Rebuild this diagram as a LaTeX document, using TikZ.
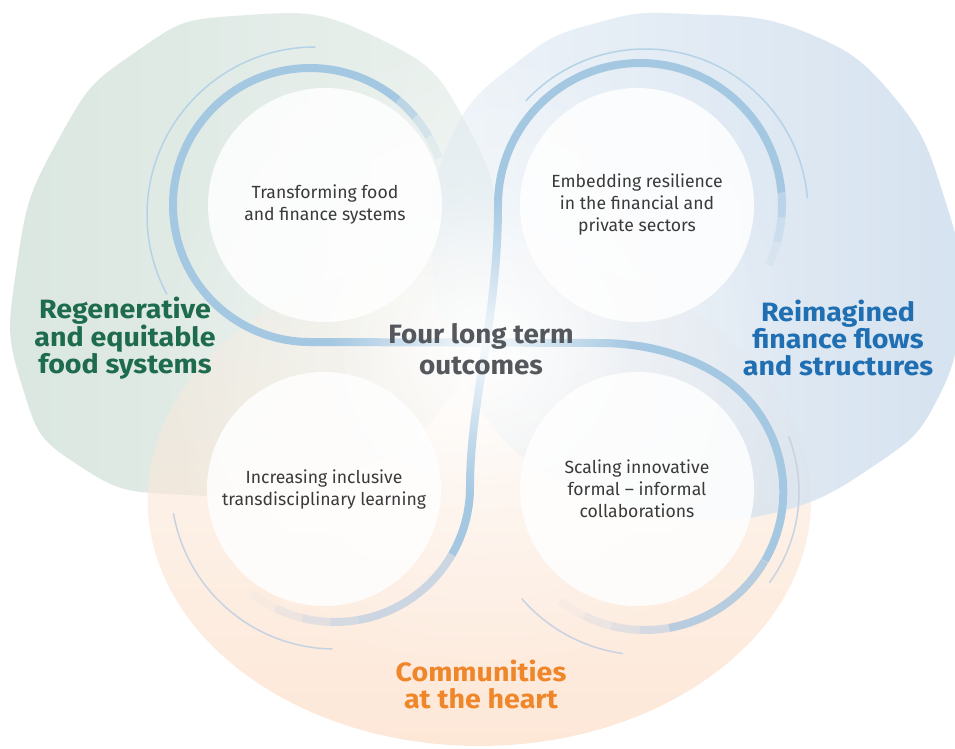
\documentclass[tikz,border=0pt]{standalone}
\usepackage{fontspec}
\setmainfont{Fira Sans}
\newfontfamily\labfont[FakeStretch=1.08]{Fira Sans}
\newfontfamily\cenfont[FakeStretch=1.05]{Fira Sans}
\usetikzlibrary{fadings}
\tikzfading[name=glowfade, inner color=transparent!0, outer color=transparent!100]
\tikzfading[name=fadegreen, left color=transparent!0, right color=transparent!45]
\tikzfading[name=fadeblue, left color=transparent!60, right color=transparent!0]
\tikzfading[name=fadeorange, top color=transparent!80, bottom color=transparent!0]
\definecolor{greenfill}{HTML}{DBE7E1}
\definecolor{bluefill}{HTML}{D6E3F0}
\definecolor{orangefill}{HTML}{FDE8D8}
\definecolor{swirl}{HTML}{A5C8E2}
\definecolor{swirlmid}{HTML}{B8CCE0}
\definecolor{swirlgrey}{HTML}{CCD6E3}
\definecolor{thinblue}{HTML}{B5D3E6}
\definecolor{thingrey}{HTML}{C8D3E2}
\definecolor{greentext}{HTML}{1E6B4E}
\definecolor{bluetext}{HTML}{1F6FB2}
\definecolor{orangetext}{HTML}{F0862A}
\definecolor{centertext}{HTML}{54575C}
\definecolor{circtext}{HTML}{3A3A3A}
\tikzset{
  swirlline/.style={line width=8, line cap=butt},
  thinline/.style={line width=1.5, line cap=round},
  outcome/.style={circle, minimum size=234, inner sep=0pt, fill=white, fill opacity=0.85, text opacity=1, align=center, text=circtext, font=\fontsize{17.6}{22}\selectfont},
  lab/.style={align=center, font=\labfont\fontsize{26.5}{27}\selectfont\bfseries},
  ctext/.style={align=center, text=centertext, font=\cenfont\fontsize{26.5}{31}\selectfont\bfseries}
}
\begin{document}
\begin{tikzpicture}[x=1pt,y=-1pt]
\useasboundingbox (0,0) rectangle (955,748);
\fill[white] (0,0) rectangle (955,748);
% blobs
\fill[greenfill, path fading=fadegreen] plot[smooth cycle, tension=0.9] coordinates {(240,15) (375,36) (468,126) (494,260) (450,398) (330,480) (190,495) (80,466) (22,385) (17,265) (58,140) (135,52)};
\fill[orangefill, path fading=fadeorange] (480,500) ellipse[x radius=332, y radius=246];
\fill[bluefill, path fading=fadeblue] plot[smooth cycle, tension=0.8] coordinates {(688,14) (805,32) (895,98) (945,200) (960,300) (938,398) (875,465) (765,515) (650,512) (540,470) (465,380) (432,260) (450,140) (520,60) (600,22)};
% broad soft glow over the overlaps
\fill[white, path fading=glowfade, opacity=0.6] (481,360) circle[radius=330];
% thin lines
\draw[thinline, thinblue] (315,215) ++(-90:168) arc[start angle=-90, end angle=-208, radius=168];
\draw[thinline, thinblue] (645,212) ++(-137:163) arc[start angle=-137, end angle=-5, radius=163];
\draw[thinline, thingrey] (335,485) ++(170:164) arc[start angle=170, end angle=91, radius=164];
\draw[thinline, thingrey] (645,492) ++(-21:154) arc[start angle=-21, end angle=36, radius=154];
\draw[thinline, thingrey] (645,492) ++(139:163) arc[start angle=139, end angle=98, radius=163];
% swirl S1 (top-left lobe -> centre -> bottom-right lobe)
\foreach \a/\b/\o in {-20/-30/0.15, -30/-40/0.35, -40/-50/0.65}
  \draw[swirlline, swirl, draw opacity=\o] (310,205) ++(\a:137) arc[start angle=\a, end angle=\b, radius=137];
\draw[swirlline, swirl] (310,205) ++(-50:137) arc[start angle=-50, end angle=-270, radius=137]
  -- (600,343) .. controls (650,343) and (700,358) .. (734,386)
  arc[start angle=-50, end angle=30, radius=138];
\draw[swirlline, swirlmid] (645,492) ++(30:138) arc[start angle=30, end angle=80, radius=138];
\foreach \a/\b/\o in {80/92/0.8, 92/104/0.55, 104/116/0.32, 116/128/0.12}
  \draw[swirlline, swirlgrey, draw opacity=\o] (645,492) ++(\a:138) arc[start angle=\a, end angle=\b, radius=138];
% swirl S2 (top-right lobe -> centre -> bottom-left lobe)
\foreach \a/\b/\o in {25/15/0.12, 15/5/0.3, 5/-5/0.6}
  \draw[swirlline, swirl, draw opacity=\o] (640,205) ++(\a:142) arc[start angle=\a, end angle=\b, radius=142];
\draw[swirlline, swirl] (640,205) ++(-5:142) arc[start angle=-5, end angle=-180, radius=142]
  .. controls (498,320) and (470,400) .. (470,487)
  arc[start angle=0, end angle=30, radius=135];
\draw[swirlline, swirlgrey] (335,487) ++(30:135) arc[start angle=30, end angle=80, radius=135];
\foreach \a/\b/\o in {80/92/0.8, 92/104/0.55, 104/116/0.32, 116/128/0.12}
  \draw[swirlline, swirlgrey, draw opacity=\o] (335,487) ++(\a:135) arc[start angle=\a, end angle=\b, radius=135];
% central glow
\fill[white, path fading=glowfade, opacity=0.9] (481,345) circle[radius=150];
% outcome circles
\node[outcome] (c1) at (325,205) {Transforming food\\and finance systems};
\node[outcome] (c2) at (637,205) {Embedding resilience\\in the financial and\\private sectors};
\node[outcome] (c3) at (324,489) {Increasing inclusive\\transdisciplinary learning};
\node[outcome] (c4) at (637,489) {Scaling innovative\\formal -- informal\\collaborations};
% labels
\node[lab, text=greentext] (g) at (125,338) {Regenerative\\and equitable\\food systems};
\node[lab, text=bluetext] (b) at (838,338) {Reimagined\\finance flows\\and structures};
\node[lab, text=orangetext] (o) at (481,684) {Communities\\at the heart};
\node[ctext] (ct) at (481,349) {Four long term\\outcomes};
\end{tikzpicture}
\end{document}
